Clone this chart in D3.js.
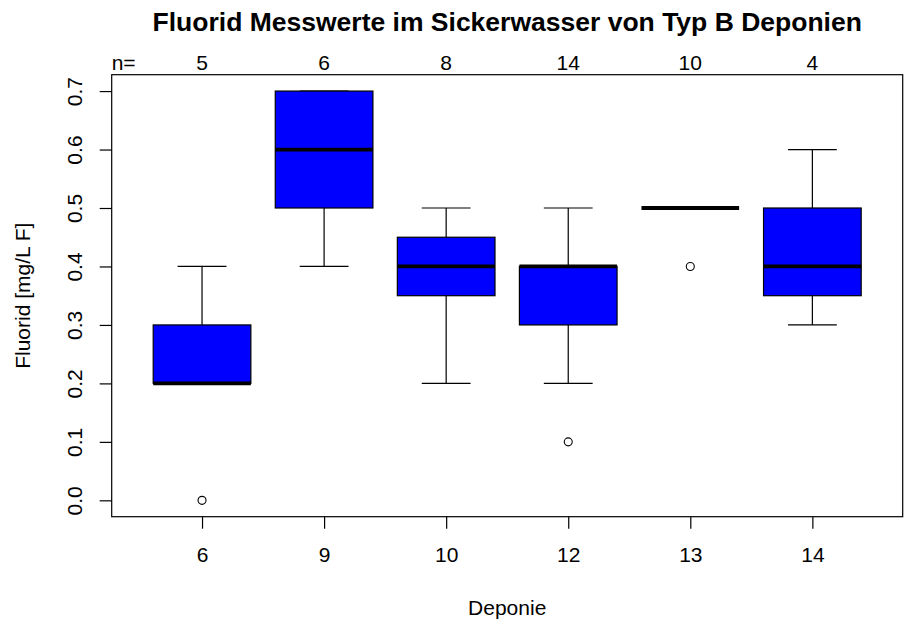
<!DOCTYPE html>
<html>
<head>
<meta charset="utf-8">
<script src="https://cdn.jsdelivr.net/npm/d3@7"></script>
<style>
  html, body { margin: 0; padding: 0; background: #fff; }
  svg { display: block; font-family: "Liberation Sans", Arial, sans-serif; }
</style>
</head>
<body>
<svg id="chart" width="907" height="625"></svg>
<script>
// ---- Data ----
const categories   = ["6", "9", "10", "12", "13", "14"];
const counts       = [5, 6, 8, 14, 10, 4];
const whiskerLow   = [0.2, 0.4, 0.2, 0.2, 0.5, 0.3];
const q1           = [0.2, 0.5, 0.35, 0.3, 0.5, 0.35];
const medians      = [0.2, 0.6, 0.4, 0.4, 0.5, 0.4];
const q3           = [0.3, 0.7, 0.45, 0.4, 0.5, 0.5];
const whiskerHigh  = [0.4, 0.7, 0.5, 0.5, 0.5, 0.6];
const outliers     = [[0.0], [], [], [0.1], [0.4], []];
const yTicks       = [0.0, 0.1, 0.2, 0.3, 0.4, 0.5, 0.6, 0.7];
const titleText    = "Fluorid Messwerte im Sickerwasser von Typ B Deponien";
const xLabel       = "Deponie";
const yLabel       = "Fluorid [mg/L F]";

// ---- Layout ----
const W = 907, H = 625;
const plot = { left: 111.7, right: 902.7, top: 74.7, bottom: 516.7 };
const fontSize = 21;

const svg = d3.select("#chart");

const x = d3.scaleLinear().domain([0.26, categories.length + 0.74]).range([plot.left, plot.right]);
const y = d3.scaleLinear().domain([-0.028, 0.728]).range([plot.bottom, plot.top]);

const boxHalf = (x(1) - x(0)) * 0.4;
const stapleHalf = boxHalf * 0.5;

const rows = categories.map((c, i) => ({
  cat: c, pos: i + 1, n: counts[i],
  lo: whiskerLow[i], q1: q1[i], med: medians[i], q3: q3[i], hi: whiskerHigh[i],
  out: outliers[i]
}));

// Boxes
const g = svg.append("g");
const grp = g.selectAll("g.box").data(rows).enter().append("g").attr("class", "box");

// whiskers
grp.append("line")
  .attr("x1", d => x(d.pos)).attr("x2", d => x(d.pos))
  .attr("y1", d => y(d.hi)).attr("y2", d => y(d.q3))
  .attr("stroke", "#000").attr("stroke-width", 1.2);
grp.append("line")
  .attr("x1", d => x(d.pos)).attr("x2", d => x(d.pos))
  .attr("y1", d => y(d.q1)).attr("y2", d => y(d.lo))
  .attr("stroke", "#000").attr("stroke-width", 1.2);
// staples
grp.append("line")
  .attr("x1", d => x(d.pos) - stapleHalf).attr("x2", d => x(d.pos) + stapleHalf)
  .attr("y1", d => y(d.hi)).attr("y2", d => y(d.hi))
  .attr("stroke", "#000").attr("stroke-width", 1.2);
grp.append("line")
  .attr("x1", d => x(d.pos) - stapleHalf).attr("x2", d => x(d.pos) + stapleHalf)
  .attr("y1", d => y(d.lo)).attr("y2", d => y(d.lo))
  .attr("stroke", "#000").attr("stroke-width", 1.2);
// box
grp.append("rect")
  .attr("x", d => x(d.pos) - boxHalf)
  .attr("width", boxHalf * 2)
  .attr("y", d => y(d.q3))
  .attr("height", d => Math.max(0, y(d.q1) - y(d.q3)))
  .attr("fill", "#0000FF")
  .attr("stroke", "#000").attr("stroke-width", 1.2);
// median
grp.append("line")
  .attr("x1", d => x(d.pos) - boxHalf).attr("x2", d => x(d.pos) + boxHalf)
  .attr("y1", d => y(d.med)).attr("y2", d => y(d.med))
  .attr("stroke", "#000").attr("stroke-width", 3.8);
// outliers
grp.selectAll("circle").data(d => d.out.map(v => ({ pos: d.pos, v })))
  .enter().append("circle")
  .attr("cx", d => x(d.pos)).attr("cy", d => y(d.v))
  .attr("r", 4).attr("fill", "#fff").attr("stroke", "#000").attr("stroke-width", 1.1);

// Frame
svg.append("rect")
  .attr("x", plot.left).attr("y", plot.top)
  .attr("width", plot.right - plot.left).attr("height", plot.bottom - plot.top)
  .attr("fill", "none").attr("stroke", "#000").attr("stroke-width", 1.2);

// Y axis
const yAxis = svg.append("g")
  .attr("transform", `translate(${plot.left},0)`)
  .call(d3.axisLeft(y).tickValues(yTicks).tickSize(12).tickFormat(d3.format(".1f")));
yAxis.select(".domain").attr("stroke", "none");
yAxis.selectAll(".tick line").attr("stroke", "#000").attr("stroke-width", 1.2);
yAxis.selectAll(".tick text")
  .attr("x", null).attr("dy", null)
  .attr("transform", `translate(${82 - plot.left},0) rotate(-90)`)
  .attr("text-anchor", "middle")
  .attr("font-size", fontSize)
  .attr("font-family", "Liberation Sans, Arial, sans-serif")
  .attr("fill", "#000");

// X axis
const xAxis = svg.append("g")
  .attr("transform", `translate(0,${plot.bottom})`)
  .call(d3.axisBottom(x).tickValues(rows.map(r => r.pos)).tickSize(12)
    .tickFormat((d, i) => categories[i]));
xAxis.select(".domain").attr("stroke", "none");
xAxis.selectAll(".tick line").attr("stroke", "#000").attr("stroke-width", 1.2);
xAxis.selectAll(".tick text")
  .attr("y", 562 - plot.bottom).attr("dy", null)
  .attr("font-size", fontSize)
  .attr("font-family", "Liberation Sans, Arial, sans-serif")
  .attr("fill", "#000");

// n= labels
svg.append("text")
  .attr("x", plot.left).attr("y", 69.5)
  .attr("font-size", fontSize).attr("fill", "#000")
  .text("n=");
svg.selectAll("text.nlab").data(rows).enter().append("text")
  .attr("class", "nlab")
  .attr("x", d => x(d.pos)).attr("y", 69.5)
  .attr("text-anchor", "middle")
  .attr("font-size", fontSize).attr("fill", "#000")
  .text(d => d.n);

// Title
svg.append("text")
  .attr("x", (plot.left + plot.right) / 2).attr("y", 31)
  .attr("text-anchor", "middle")
  .attr("font-size", 26.5).attr("font-weight", "bold").attr("fill", "#000")
  .text(titleText);

// Axis labels
svg.append("text")
  .attr("x", (plot.left + plot.right) / 2).attr("y", 615)
  .attr("text-anchor", "middle")
  .attr("font-size", fontSize).attr("fill", "#000")
  .text(xLabel);
svg.append("text")
  .attr("transform", `translate(30,${(plot.top + plot.bottom) / 2}) rotate(-90)`)
  .attr("text-anchor", "middle")
  .attr("font-size", fontSize).attr("fill", "#000")
  .text(yLabel);
</script>
</body>
</html>
